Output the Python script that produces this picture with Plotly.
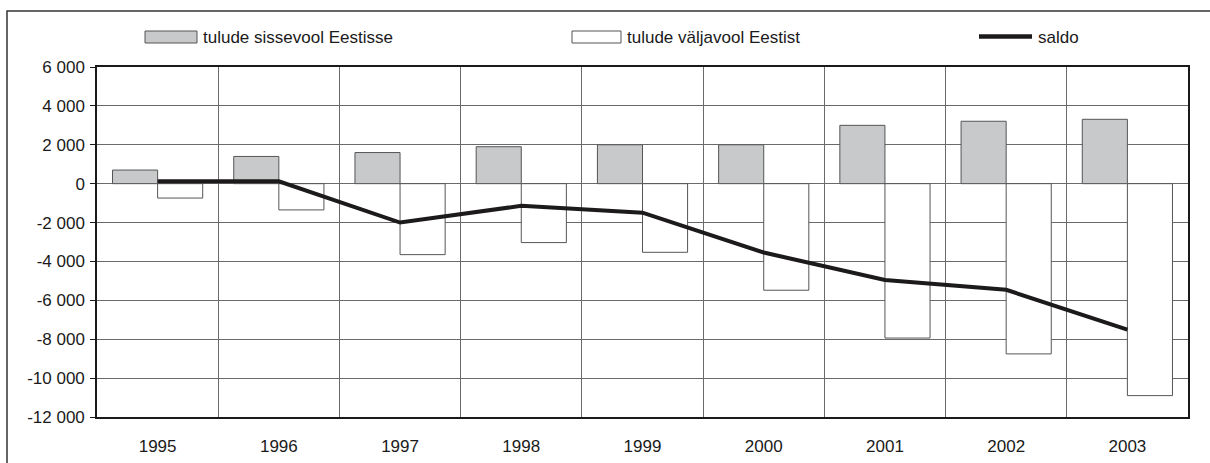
import plotly.graph_objects as go

years = ["1995", "1996", "1997", "1998", "1999", "2000", "2001", "2002", "2003"]
inflow = [700, 1400, 1600, 1900, 2000, 2000, 3000, 3210, 3310]
outflow = [-740, -1350, -3650, -3030, -3530, -5480, -7940, -8755, -10900]
saldo = [120, 120, -2000, -1140, -1490, -3540, -4950, -5460, -7510]

ytick_vals = [6000, 4000, 2000, 0, -2000, -4000, -6000, -8000, -10000, -12000]
ytick_text = ["6 000", "4 000", "2 000", "0", "-2 000", "-4 000", "-6 000", "-8 000", "-10 000", "-12 000"]

legend_names = ["tulude sissevool Eestisse", "tulude väljavool Eestist", "saldo"]

W, H = 1210, 463
L, R, T, B = 97, 1188, 67, 417


def px(x):
    return (x - L) / (R - L)


def py(y):
    return (B - y) / (B - T)


FONT = "Liberation Sans, Arial, sans-serif"
EDGE = "#555555"
GRID = "#6a6a6a"
AX = "#1a1a1a"

fig = go.Figure()
fig.add_trace(go.Bar(x=years, y=inflow, name=legend_names[0],
                     marker=dict(color="#c8c9cb", line=dict(color=EDGE, width=1))))
fig.add_trace(go.Bar(x=years, y=outflow, name=legend_names[1],
                     marker=dict(color="#ffffff", line=dict(color=EDGE, width=1))))
fig.add_trace(go.Scatter(x=years, y=saldo, name=legend_names[2], mode="lines",
                         line=dict(color="#1c1a1b", width=4)))

shapes = [
    # outer frame
    dict(type="rect", xref="paper", yref="paper", x0=px(7), x1=px(1240), y0=py(490), y1=py(11),
         line=dict(color="#333333", width=1.5), fillcolor="rgba(0,0,0,0)", layer="below"),
    # legend swatches
    dict(type="rect", xref="paper", yref="paper", x0=px(145), x1=px(197), y0=py(43), y1=py(31),
         line=dict(color=EDGE, width=1), fillcolor="#c8c9cb"),
    dict(type="rect", xref="paper", yref="paper", x0=px(572), x1=px(621), y0=py(43), y1=py(31),
         line=dict(color=EDGE, width=1), fillcolor="#ffffff"),
    dict(type="line", xref="paper", yref="paper", x0=px(979), x1=px(1032), y0=py(36.5), y1=py(36.5),
         line=dict(color="#1c1a1b", width=4.5)),
]

annotations = [
    dict(xref="paper", yref="paper", x=px(x), y=py(37), text=t, showarrow=False,
         xanchor="left", yanchor="middle", font=dict(family=FONT, size=17, color=AX))
    for x, t in zip([201, 625, 1036], legend_names)
]

fig.update_layout(
    width=W, height=H, autosize=False,
    margin=dict(l=L, r=W - R, t=T, b=H - B, pad=0, autoexpand=False),
    paper_bgcolor="white", plot_bgcolor="white",
    barmode="group", bargap=0.256, bargroupgap=0,
    showlegend=False,
    font=dict(family=FONT, size=17, color=AX),
    shapes=shapes, annotations=annotations,
)
fig.update_xaxes(type="category", tickson="boundaries", showgrid=True, gridcolor=GRID, gridwidth=1,
                 ticks="", showline=True, linecolor=AX, linewidth=1.5, mirror=True, automargin=False,
                 ticklabelstandoff=13, tickfont=dict(family=FONT, size=17, color=AX))
fig.update_yaxes(range=[-12000, 6000], tickvals=ytick_vals, ticktext=ytick_text,
                 showgrid=True, gridcolor=GRID, gridwidth=1, zeroline=False,
                 ticks="outside", ticklen=5, tickcolor=AX, tickwidth=1, automargin=False,
                 showline=True, linecolor=AX, linewidth=1.5, mirror=True,
                 ticklabelstandoff=2, tickfont=dict(family=FONT, size=17, color=AX))

fig.write_html("out.html", config={"displayModeBar": False},
               post_script="document.body.style.margin='0';")
